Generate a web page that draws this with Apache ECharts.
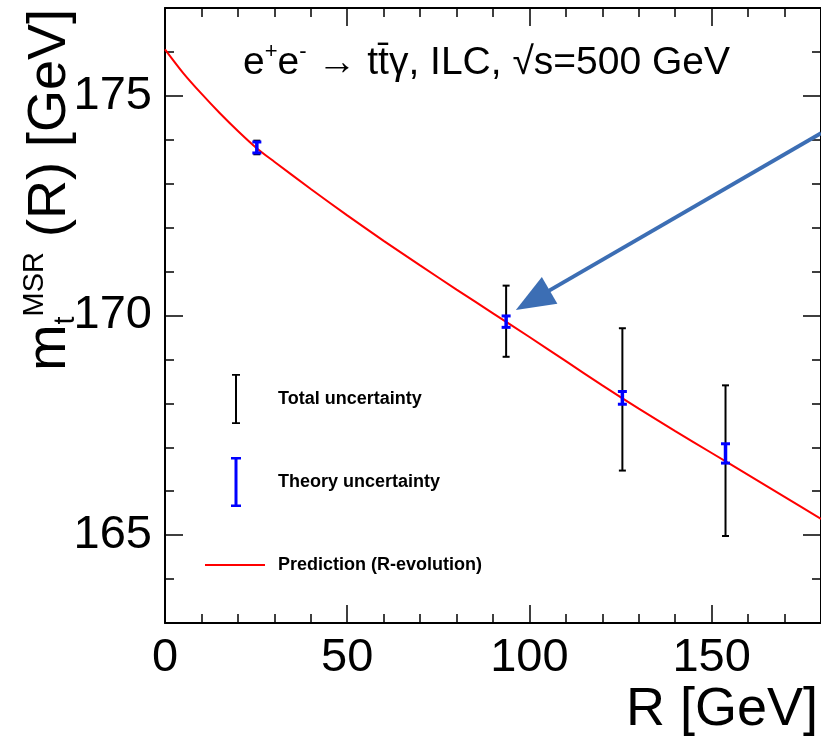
<!DOCTYPE html>
<html><head><meta charset="utf-8">
<script src="https://cdn.jsdelivr.net/npm/echarts@6/dist/echarts.min.js"></script>
<style>html,body{margin:0;padding:0;background:#fff}#c{width:821px;height:743px}</style>
</head><body><div id="c"></div>
<script>
// ---- data ----
const curveR = [0, 5, 10, 15, 20, 25, 30, 40, 50, 60, 70, 80, 90, 100, 110, 120, 130, 140, 150, 160, 170, 180];
const curveM = [176.06, 175.52, 175.05, 174.61, 174.20, 173.82, 173.50, 172.88, 172.28, 171.70, 171.14, 170.59, 170.05, 169.51, 168.96, 168.41, 167.88, 167.37, 166.87, 166.37, 165.87, 165.37];
const pointR = [25.2, 93.6, 125.5, 153.8];
const totalLow = [173.67, 169.06, 166.47, 164.98];
const totalHigh = [173.98, 170.68, 169.71, 168.41];
const theoryLow = [173.70, 169.73, 167.98, 166.64];
const theoryHigh = [173.95, 169.99, 168.27, 167.08];
const arrowFrom = [180, 174.15];
const arrowTo = [100.9, 170.35];
const xLabelValues = [0, 50, 100, 150];
const yLabelValues = [165, 170, 175];
const seriesNames = ['Total uncertainty', 'Theory uncertainty', 'Prediction (R-evolution)'];

const FONT = 'Liberation Sans, Arial, Helvetica, sans-serif';
const chart = echarts.init(document.getElementById('c'), null, {renderer: 'canvas'});

function errorBar(color, lw, capW, capLw) {
  return function (params, api) {
    const x = api.value(0);
    const lo = api.coord([x, api.value(1)]);
    const hi = api.coord([x, api.value(2)]);
    const st = {stroke: color, lineWidth: lw};
    const cst = {stroke: color, lineWidth: capLw};
    return {type: 'group', children: [
      {type: 'line', shape: {x1: hi[0], y1: hi[1], x2: lo[0], y2: lo[1]}, style: st},
      {type: 'line', shape: {x1: hi[0] - capW / 2, y1: hi[1], x2: hi[0] + capW / 2, y2: hi[1]}, style: cst},
      {type: 'line', shape: {x1: lo[0] - capW / 2, y1: lo[1], x2: lo[0] + capW / 2, y2: lo[1]}, style: cst}
    ]};
  };
}

const axisLineStyle = {color: '#000', width: 2};
const tickStyle = {color: '#000', width: 1.5};
function xAx(pos, major, labels) {
  const a = {
    type: 'value', position: pos, min: 0, max: 180, interval: 10,
    axisLine: {show: !major, onZero: false, lineStyle: axisLineStyle},
    axisTick: {show: true, inside: true, length: major ? 18 : 9, lineStyle: tickStyle},
    axisLabel: {show: false},
    splitLine: {show: false}
  };
  if (major) a.axisTick.customValues = xLabelValues;
  if (labels) {
    a.axisLabel = {show: true, customValues: xLabelValues, fontSize: 47, color: '#000', fontFamily: FONT, margin: 12};
    a.name = 'R [GeV]';
    a.nameLocation = 'end';
    a.nameGap = -3;
    a.nameTextStyle = {fontSize: 54, color: '#000', fontFamily: FONT, align: 'right', verticalAlign: 'top', padding: [60, 0, 0, 0]};
  }
  return a;
}
function yAx(pos, major, labels) {
  const a = {
    type: 'value', position: pos, min: 163, max: 177, interval: 1,
    axisLine: {show: !major, onZero: false, lineStyle: axisLineStyle},
    axisTick: {show: true, inside: true, length: major ? 18 : 9, lineStyle: tickStyle},
    axisLabel: {show: false},
    splitLine: {show: false}
  };
  if (major) a.axisTick.customValues = yLabelValues;
  if (labels) {
    a.axisLabel = {show: true, customValues: yLabelValues, fontSize: 47, color: '#000', fontFamily: FONT, margin: 13};
  }
  return a;
}

const option = {
  animation: false,
  backgroundColor: '#fff',
  grid: {left: 165, top: 8, right: 0, bottom: 120, containLabel: false, outerBoundsMode: 'none'},
  title: {
    left: 243, top: 41, padding: 0,
    text: '{n|e}{s|+}{n|e}{s|-}{n| \u2192 tt\u0304\u03b3, ILC, \u221As=500 GeV}',
    textStyle: {
      fontWeight: 'normal',
      rich: {
        n: {fontSize: 39, fontWeight: 'normal', fontFamily: FONT, color: '#000', lineHeight: 45},
        s: {fontSize: 22, fontWeight: 'normal', fontFamily: FONT, color: '#000', lineHeight: 22, verticalAlign: 'top'}
      }
    }
  },
  legend: {
    orient: 'vertical', left: 205, top: 374, padding: 0,
    itemWidth: 60, itemHeight: 50, itemGap: 33, selectedMode: false,
    itemStyle: {borderWidth: 0},
    textStyle: {fontSize: 18, fontWeight: 'bold', color: '#000', fontFamily: FONT, padding: [0, 0, 0, 8]},
    data: [
      {name: seriesNames[0], icon: 'path://M0,0M60,50M27,0H35V1.8H32V48.2H35V50H27V48.2H30V1.8H27Z', itemStyle: {color: '#000', borderWidth: 0}},
      {name: seriesNames[1], icon: 'path://M0,0M60,50M26,0H36V2.6H32.5V47.4H36V50H26V47.4H29.5V2.6H26Z', itemStyle: {color: '#0000ff', borderWidth: 0}},
      {name: seriesNames[2], icon: 'path://M0,0M60,50M0,24H60V26H0Z', itemStyle: {color: '#ff0000', borderWidth: 0}}
    ]
  },
  graphic: [{
    type: 'text', x: 50, y: 190, rotation: Math.PI / 2,
    style: {
      text: '{m|m}{sb|t}{sp|MSR}{n| (R) [GeV]}',
      align: 'center', verticalAlign: 'middle', fill: '#000',
      rich: {
        m: {fontSize: 56, fontFamily: FONT, fill: '#000', lineHeight: 60},
        n: {fontSize: 54, fontFamily: FONT, fill: '#000', lineHeight: 60},
        sp: {fontSize: 29, fontFamily: FONT, fill: '#000', lineHeight: 29, verticalAlign: 'top'},
        sb: {fontSize: 29, fontFamily: FONT, fill: '#000', lineHeight: 29, verticalAlign: 'bottom'}
      }
    }
  }],
  xAxis: [xAx('bottom', false, true), xAx('bottom', true, false), xAx('top', false, false), xAx('top', true, false)],
  yAxis: [yAx('left', false, true), yAx('left', true, false), yAx('right', false, false), yAx('right', true, false)],
  series: [
    {
      name: seriesNames[0], type: 'custom', xAxisIndex: 0, yAxisIndex: 0,
      itemStyle: {color: '#000'},
      renderItem: errorBar('#000', 2, 7, 2),
      data: pointR.map((r, i) => [r, totalLow[i], totalHigh[i]]),
      z: 2
    },
    {
      name: seriesNames[2], type: 'line', xAxisIndex: 0, yAxisIndex: 0,
      showSymbol: false, symbol: 'none', smooth: 0.3,
      itemStyle: {color: '#ff0000'},
      lineStyle: {color: '#ff0000', width: 2},
      data: curveR.map((r, i) => [r, curveM[i]]),
      markLine: {
        silent: true, animation: false,
        symbol: ['none', 'triangle'], symbolSize: [31, 39],
        lineStyle: {color: '#3c6eb4', width: 4, type: 'solid'},
        itemStyle: {color: '#3c6eb4'},
        label: {show: false},
        data: [[{coord: arrowFrom}, {coord: arrowTo}]]
      },
      z: 3
    },
    {
      name: seriesNames[1], type: 'custom', xAxisIndex: 0, yAxisIndex: 0,
      itemStyle: {color: '#0000ff'},
      renderItem: errorBar('#0000ff', 3.5, 9, 3),
      data: pointR.map((r, i) => [r, theoryLow[i], theoryHigh[i]]),
      z: 4
    }
  ]
};
chart.setOption(option);
</script>
</body></html>
